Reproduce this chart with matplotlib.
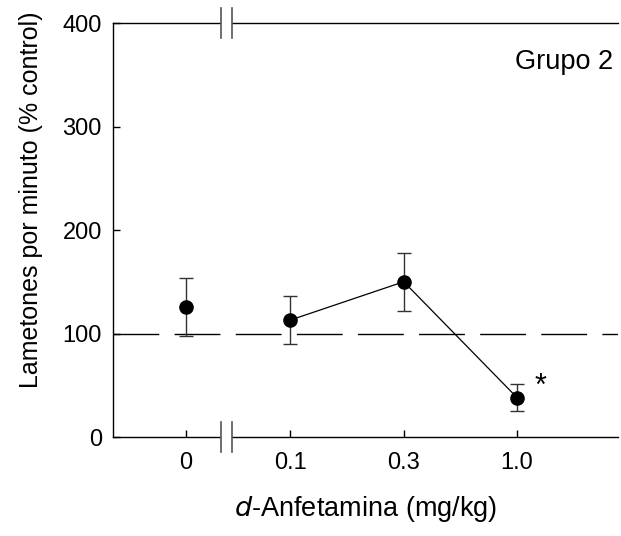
import matplotlib
matplotlib.use("Agg")
import matplotlib.pyplot as plt

plt.rcParams['font.family'] = ['Liberation Sans', 'DejaVu Sans']

doses = ["0", "0.1", "0.3", "1.0"]
means = [126, 113, 150, 38]
sem = [28, 23, 28, 13]
xpos = [0, 0.92, 1.92, 2.92]
baseline = 100
yticks = [0, 100, 200, 300, 400]

fig = plt.figure(figsize=(6.21, 5.36), dpi=100)
W, H = 621, 536
ax = fig.add_axes([113 / W, 1 - 437 / H, (618 - 113) / W, (437 - 23) / H])

ax.set_xlim(-0.645, 3.81)
ax.set_ylim(0, 400)

ax.axhline(baseline, color='black', lw=1, dashes=(33, 11), zorder=1)

ax.errorbar(xpos, means, yerr=sem, fmt='none', ecolor='#333333', elinewidth=1,
            capsize=5, capthick=1, zorder=2)
ax.plot(xpos[1:], means[1:], color='black', lw=0.9, zorder=3)
ax.plot(xpos, means, 'o', color='black', markersize=9.5, zorder=4)

ax.text(xpos[3] + 0.21, means[3] + 10, '*', fontsize=22, ha='center', va='center')
ax.text(0.99, 0.906, 'Grupo 2', transform=ax.transAxes, fontsize=19.5, ha='right', va='center')

ax.spines['right'].set_visible(False)
for s in ['left', 'top', 'bottom']:
    ax.spines[s].set_linewidth(1)

ax.set_xticks(xpos)
ax.set_xticklabels(doses)
ax.set_yticks(yticks)
ax.tick_params(direction='in', length=5, width=1)
ax.tick_params(axis='x', top=False, pad=11, labelsize=17)
ax.tick_params(axis='y', right=False, pad=8, labelsize=17)

ax.set_ylabel('Lametones por minuto (% control)', fontsize=18)
ax.yaxis.set_label_coords(-0.139, 0.572)
ax.set_xlabel('$\\it{d}$-Anfetamina (mg/kg)', fontsize=19.5)
ax.xaxis.set_label_coords(0.5, -0.138)

# axis breaks
xb = (226.7 - 113) / (618 - 113) * (3.81 + 0.645) - 0.645
trans = ax.get_xaxis_transform()
dx = 0.05
for yb in (0, 1):
    ax.add_patch(plt.Rectangle((xb - dx, yb - 0.006), 2 * dx, 0.012, transform=trans,
                               facecolor='white', edgecolor='none', clip_on=False, zorder=5))
    for sgn in (-1, 1):
        ax.plot([xb + sgn * dx, xb + sgn * dx], [yb - 0.036, yb + 0.036], transform=trans,
                color='#555555', lw=1.2, clip_on=False, zorder=6)

fig.savefig('out.png', dpi=100)
